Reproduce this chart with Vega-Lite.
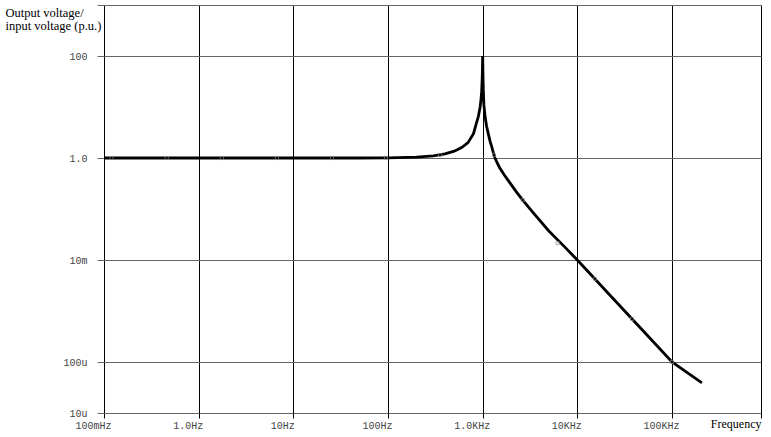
{
  "$schema": "https://vega.github.io/schema/vega-lite/v6.json",
  "width": 657,
  "height": 408,
  "autosize": "none",
  "padding": {"left": 104, "top": 5, "right": 10, "bottom": 24},
  "background": "white",
  "config": {"view": {"stroke": null}},
  "datasets": {
    "curve": [
      {"f": 0.1, "v": 1.0}, {"f": 1, "v": 1.0}, {"f": 10, "v": 1.0}, {"f": 50, "v": 1.0},
      {"f": 100, "v": 1.01}, {"f": 200, "v": 1.04}, {"f": 300, "v": 1.1}, {"f": 400, "v": 1.2},
      {"f": 500, "v": 1.36}, {"f": 600, "v": 1.6}, {"f": 700, "v": 2.0}, {"f": 800, "v": 3.0},
      {"f": 850, "v": 4.5}, {"f": 900, "v": 6.5}, {"f": 940, "v": 10}, {"f": 960, "v": 14},
      {"f": 975, "v": 20}, {"f": 985, "v": 30}, {"f": 992, "v": 45}, {"f": 996, "v": 65},
      {"f": 1000, "v": 100}, {"f": 1004, "v": 65}, {"f": 1008, "v": 40}, {"f": 1015, "v": 22},
      {"f": 1030, "v": 11}, {"f": 1060, "v": 6.5}, {"f": 1100, "v": 4.2}, {"f": 1150, "v": 2.9},
      {"f": 1200, "v": 2.1}, {"f": 1250, "v": 1.63}, {"f": 1300, "v": 1.25}, {"f": 1350, "v": 1.0},
      {"f": 1400, "v": 0.86}, {"f": 1500, "v": 0.66}, {"f": 1700, "v": 0.46}, {"f": 2000, "v": 0.30},
      {"f": 2300, "v": 0.21}, {"f": 2650, "v": 0.15}, {"f": 3500, "v": 0.08}, {"f": 5000, "v": 0.037},
      {"f": 7000, "v": 0.0198}, {"f": 10000, "v": 0.01}, {"f": 20000, "v": 0.0025},
      {"f": 50000, "v": 0.0004}, {"f": 100000, "v": 0.0001}, {"f": 150000, "v": 0.000059},
      {"f": 207000, "v": 0.000039}
    ],
    "markers": [
      {"f": 0.12, "v": 1.0}, {"f": 0.46, "v": 1.0}, {"f": 1.76, "v": 1.0}, {"f": 6.7, "v": 1.0},
      {"f": 25.6, "v": 1.0}, {"f": 95, "v": 1.01}, {"f": 355, "v": 1.14}, {"f": 1316, "v": 1.15},
      {"f": 2650, "v": 0.15}, {"f": 6200, "v": 0.0215}, {"f": 15300, "v": 0.0043},
      {"f": 37800, "v": 0.0007}, {"f": 100000, "v": 0.0001}
    ]
  },
  "layer": [
    {
      "data": {"name": "curve"},
      "mark": {"type": "line", "color": "black", "strokeWidth": 2.8, "clip": true},
      "encoding": {
        "x": {
          "field": "f", "type": "quantitative",
          "scale": {"type": "log", "domain": [0.1, 871000], "nice": false},
          "axis": {
            "values": [0.1, 1, 10, 100, 1000, 10000, 100000, 871000],
            "labelExpr": "datum.value < 0.5 ? '100mHz' : datum.value < 5 ? '1.0Hz' : datum.value < 50 ? '10Hz' : datum.value < 500 ? '100Hz' : datum.value < 5000 ? '1.0KHz' : datum.value < 50000 ? '10KHz' : datum.value < 500000 ? '100KHz' : ''",
            "grid": true, "gridColor": "black", "gridWidth": 1, "gridOpacity": 1,
            "domain": false,
            "ticks": true, "tickColor": "black", "tickSize": 5, "tickWidth": 1,
            "labelFont": "Liberation Mono", "labelFontSize": 10, "labelColor": "#444",
            "labelAlign": "center", "labelOffset": -11, "labelPadding": 2,
            "labelBaseline": "top", "labelOverlap": false, "labelFlush": false,
            "title": "Frequency", "titleFont": "Liberation Serif", "titleFontSize": 12,
            "titleFontWeight": "normal", "titleColor": "black",
            "titleX": 657, "titleY": 10, "titleAlign": "right", "titleBaseline": "middle"
          }
        },
        "y": {
          "field": "v", "type": "quantitative",
          "scale": {"type": "log", "domain": [0.00001, 1000], "nice": false},
          "axis": {
            "values": [0.00001, 0.0001, 0.01, 1, 100, 1000],
            "labelExpr": "datum.value > 500 ? '' : datum.value > 50 ? '100' : datum.value > 0.5 ? '1.0' : datum.value > 0.005 ? '10m' : datum.value > 0.00005 ? '100u' : '10u'",
            "grid": true, "gridColor": "#666", "gridWidth": 1, "gridOpacity": 1,
            "domain": false,
            "ticks": true, "tickColor": "#666", "tickSize": 7, "tickWidth": 1,
            "labelFont": "Liberation Mono", "labelFontSize": 10, "labelColor": "#444",
            "labelPadding": 10, "labelOverlap": false, "labelFlush": false,
            "title": ["Output voltage/", "input voltage (p.u.)"],
            "titleFont": "Liberation Serif", "titleFontSize": 12.5, "titleFontWeight": "normal",
            "titleColor": "black", "titleAngle": 0, "titleAlign": "left", "titleBaseline": "top",
            "titleX": -99, "titleY": 1, "titleLineHeight": 13
          }
        }
      }
    },
    {
      "data": {"name": "markers"},
      "mark": {"type": "point", "shape": "square", "size": 10, "filled": false, "color": "#888", "strokeWidth": 1},
      "encoding": {
        "x": {"field": "f", "type": "quantitative"},
        "y": {"field": "v", "type": "quantitative"}
      }
    }
  ]
}
